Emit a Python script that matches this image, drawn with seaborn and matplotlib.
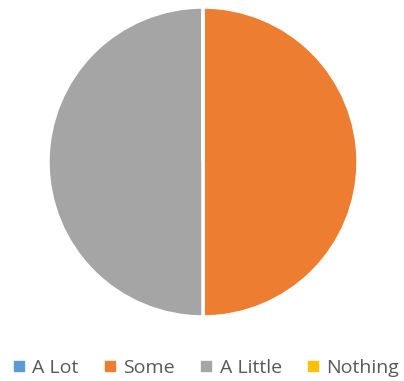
import matplotlib
matplotlib.use("Agg")
import matplotlib.pyplot as plt
import seaborn as sns
from matplotlib.lines import Line2D

categories = ["A Lot", "Some", "A Little", "Nothing"]
values = [0, 50, 50, 0]
colors = ["#5B9BD5", "#ED7D31", "#A5A5A5", "#FFC000"]

sns.set_style("white")
plt.rcParams["font.family"] = ["Open Sans", "DejaVu Sans"]

W, H = 404, 381
fig = plt.figure(figsize=(W / 100, H / 100), dpi=100)
cx, cy, r = 203, 162, 155
ax = fig.add_axes([(cx - r) / W, (H - cy - r) / H, 2 * r / W, 2 * r / H])
ax.pie(values, colors=colors, startangle=90, counterclock=False,
       wedgeprops=dict(edgecolor="white", linewidth=2.5))
ax.set_aspect("equal")
ax.set_xlim(-1, 1)
ax.set_ylim(-1, 1)

handles = [Line2D([0], [0], marker="s", linestyle="none", markersize=6.5,
                  markerfacecolor=c, markeredgecolor=c) for c in colors]
fig.legend(handles, categories, loc="center", bbox_to_anchor=(0.51, 1 - 368 / H),
           ncol=4, frameon=False, fontsize=14, handlelength=0.6,
           handletextpad=0.4, columnspacing=1.3, labelcolor="#595959")
fig.savefig("out.png", dpi=100, facecolor="white")
